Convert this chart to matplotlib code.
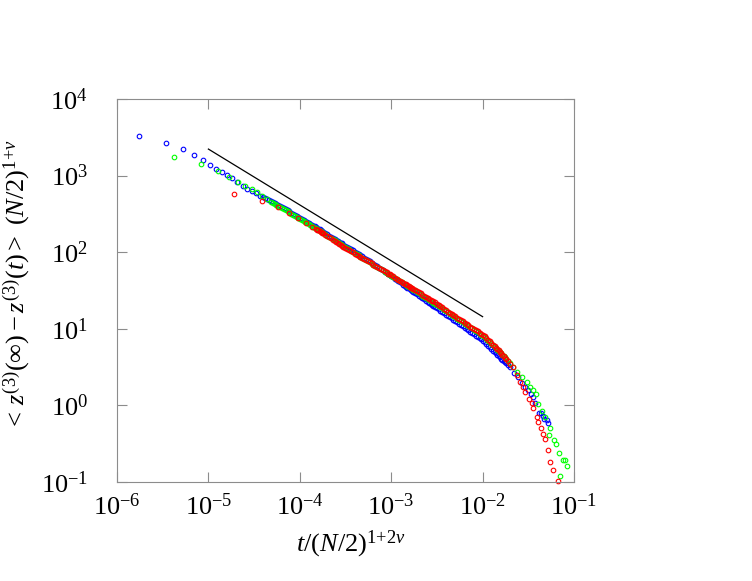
import numpy as np
import matplotlib
matplotlib.use('Agg')
import matplotlib.pyplot as plt
from matplotlib.ticker import FixedLocator, NullLocator, FuncFormatter

# ---------------- data ----------------
t_blue = [1.73e-6, 3.44e-6, 5.24e-6, 6.95e-6, 8.67e-6, 1.04e-5, 1.21e-5, 1.40e-5,
          1.58e-5, 1.80e-5, 2.07e-5, 2.37e-5, 2.66e-5, 2.98e-5, 3.32e-5, 3.67e-5,
          4.0e-5, 4.4e-5, 4.8e-5, 5.3e-5, 5.8e-5, 6.4e-5, 7.0e-5, 7.7e-5, 8.5e-5, 9.3e-5,
          1.0e-4, 1.1e-4, 1.2e-4, 1.3e-4, 1.4e-4, 1.5e-4, 1.6e-4, 1.7e-4, 1.8e-4, 2.0e-4,
          2.2e-4, 2.4e-4, 2.6e-4, 2.8e-4, 3.0e-4, 3.3e-4, 3.6e-4, 4.0e-4, 4.4e-4, 4.8e-4,
          5.3e-4, 5.8e-4, 6.4e-4, 7.0e-4, 7.7e-4, 8.5e-4, 9.3e-4,
          1.0e-3, 1.1e-3, 1.2e-3, 1.3e-3, 1.4e-3, 1.5e-3, 1.6e-3, 1.7e-3, 1.8e-3, 2.0e-3,
          2.2e-3, 2.4e-3, 2.6e-3, 2.8e-3, 3.0e-3, 3.3e-3, 3.6e-3, 4.0e-3, 4.4e-3, 4.8e-3,
          5.3e-3, 5.8e-3, 6.4e-3, 7.0e-3, 7.7e-3, 8.5e-3, 9.3e-3,
          1.0e-2, 1.1e-2, 1.2e-2, 1.3e-2, 1.4e-2, 1.5e-2, 1.6e-2, 1.7e-2, 1.8e-2, 2.0e-2,
          0.0219, 0.0244, 0.0270, 0.0294, 0.0316, 0.0339, 0.0359, 0.0378, 0.0411, 0.0436,
          0.0461, 0.0475, 0.0502, 0.0524]
y_blue = [3290, 2690, 2220, 1860, 1600, 1387, 1230, 1104, 1009, 922, 818, 731, 675, 630, 587, 542,
          522, 490, 463, 434, 410, 385, 362, 340, 317, 297,
          282, 264, 248, 234, 222, 211, 202, 194, 186, 171,
          160, 150, 141, 133, 126, 118, 110, 102, 94.6, 88.5,
          81.8, 76.2, 70.3, 65.3, 60.4, 55.7, 51.6,
          48.6, 45.0, 41.8, 39.1, 36.6, 34.6, 32.8, 31.2, 29.7, 27.2,
          25.1, 23.3, 21.8, 20.5, 19.4, 17.9, 16.7, 15.3, 14.2, 13.2,
          12.1, 11.2, 10.3, 9.57, 8.83, 8.13, 7.52,
          7.03, 6.34, 5.74, 5.20, 4.76, 4.40, 4.07, 3.79, 3.56, 3.14,
          2.62, 2.35, 1.94, 1.74, 1.59, 1.41, 1.29, 1.06, 0.789, 0.807,
          0.728, 0.655, 0.644, 0.589]
# extra blue samples read between the ones above
t_blue_b = [4.2e-5, 4.6e-5, 5.05e-5, 5.55e-5, 6.1e-5, 6.7e-5, 7.35e-5, 8.1e-5, 8.9e-5, 9.65e-5,
            1.05e-4, 1.15e-4, 1.25e-4, 1.35e-4, 1.45e-4, 1.55e-4, 1.65e-4, 1.75e-4, 1.9e-4,
            2.1e-4, 2.3e-4, 2.5e-4, 2.7e-4, 2.9e-4, 3.15e-4, 3.45e-4, 3.8e-4, 4.2e-4, 4.6e-4,
            5.05e-4, 5.55e-4, 6.1e-4, 6.7e-4, 7.35e-4, 8.1e-4, 8.9e-4, 9.65e-4,
            1.05e-3, 1.15e-3, 1.25e-3, 1.35e-3, 1.45e-3, 1.55e-3, 1.65e-3, 1.75e-3, 1.9e-3,
            2.1e-3, 2.3e-3, 2.5e-3, 2.7e-3, 2.9e-3, 3.15e-3, 3.45e-3, 3.8e-3, 4.2e-3, 4.6e-3,
            5.05e-3, 5.55e-3, 6.1e-3, 6.7e-3, 7.35e-3, 8.1e-3, 8.9e-3, 9.65e-3,
            1.05e-2, 1.15e-2, 1.25e-2, 1.35e-2, 1.45e-2, 1.55e-2, 1.65e-2, 1.75e-2, 1.9e-2]
y_blue_b = [506, 476, 448, 422, 397, 373, 351, 328, 307, 290,
            273, 256, 241, 228, 217, 207, 198, 190, 178,
            165, 155, 145, 137, 130, 122, 114, 106, 98.2, 91.5,
            85.1, 79.0, 73.2, 67.8, 62.8, 58.0, 53.6, 50.1,
            46.8, 43.4, 40.4, 37.8, 35.6, 33.7, 32.0, 30.4, 28.4,
            26.1, 24.2, 22.6, 21.2, 19.9, 18.6, 17.3, 16.0, 14.7, 13.7,
            12.6, 11.6, 10.8, 9.94, 9.19, 8.47, 7.82, 7.27,
            6.68, 6.03, 5.46, 4.98, 4.58, 4.23, 3.93, 3.67, 3.34]

t_green = [4.17e-6, 8.36e-6, 1.26e-5, 1.70e-5, 2.12e-5, 2.53e-5, 2.98e-5, 3.38e-5, 3.83e-5, 4.34e-5,
           4.8e-5, 5.3e-5, 5.8e-5, 6.4e-5, 7.0e-5, 7.7e-5, 8.5e-5, 9.3e-5,
           1.0e-4, 1.1e-4, 1.2e-4, 1.3e-4, 1.4e-4, 1.5e-4, 1.6e-4, 1.7e-4, 1.8e-4, 2.0e-4,
           2.2e-4, 2.4e-4, 2.6e-4, 2.8e-4, 3.0e-4, 3.3e-4, 3.6e-4, 4.0e-4, 4.4e-4, 4.8e-4,
           5.3e-4, 5.8e-4, 6.4e-4, 7.0e-4, 7.7e-4, 8.5e-4, 9.3e-4,
           1.0e-3, 1.1e-3, 1.2e-3, 1.3e-3, 1.4e-3, 1.5e-3, 1.6e-3, 1.7e-3, 1.8e-3, 2.0e-3,
           2.2e-3, 2.4e-3, 2.6e-3, 2.8e-3, 3.0e-3, 3.3e-3, 3.6e-3, 4.0e-3, 4.4e-3, 4.8e-3,
           5.3e-3, 5.8e-3, 6.4e-3, 7.0e-3, 7.7e-3, 8.5e-3, 9.3e-3,
           1.0e-2, 1.1e-2, 1.2e-2, 1.3e-2, 1.4e-2, 1.5e-2, 1.6e-2, 1.7e-2, 1.8e-2, 2.0e-2,
           0.0217, 0.0236, 0.0268, 0.0303, 0.0330, 0.0359, 0.0384, 0.0406, 0.0444, 0.0482,
           0.0551, 0.0537, 0.0600, 0.0640, 0.0681, 0.0752, 0.0798, 0.0828, 0.0711]
y_green = [1733, 1429, 1159, 968, 832, 731, 663, 606, 542, 491,
           459, 429, 404, 378, 354, 331, 309, 290,
           275, 256, 240, 227, 215, 204, 195, 187, 179, 165,
           154, 144, 135, 128, 121, 113, 105, 97.3, 90.6, 84.9,
           78.9, 73.8, 68.7, 64.1, 59.8, 55.6, 52.0,
           49.2, 45.9, 43.0, 40.6, 38.3, 36.4, 34.7, 33.2, 31.8, 29.3,
           27.2, 25.5, 23.9, 22.5, 21.3, 19.8, 18.5, 17.1, 15.8, 14.7,
           13.6, 12.6, 11.7, 10.9, 10.1, 9.31, 8.65,
           8.07, 7.36, 6.67, 6.08, 5.56, 5.16, 4.76, 4.41, 4.08, 3.56,
           3.15, 2.75, 2.33, 2.02, 1.74, 1.59, 1.41, 1.04, 0.857, 0.711,
           0.502, 0.405, 0.353, 0.318, 0.237, 0.194, 0.194, 0.160, 0.119]
t_green_b = [5.05e-5, 5.55e-5, 6.1e-5, 6.7e-5, 7.35e-5, 8.1e-5, 8.9e-5, 9.65e-5,
             1.05e-4, 1.15e-4, 1.25e-4, 1.35e-4, 1.45e-4, 1.55e-4, 1.65e-4, 1.75e-4, 1.9e-4,
             2.1e-4, 2.3e-4, 2.5e-4, 2.7e-4, 2.9e-4, 3.15e-4, 3.45e-4, 3.8e-4, 4.2e-4, 4.6e-4,
             5.05e-4, 5.55e-4, 6.1e-4, 6.7e-4, 7.35e-4, 8.1e-4, 8.9e-4, 9.65e-4,
             1.05e-3, 1.15e-3, 1.25e-3, 1.35e-3, 1.45e-3, 1.55e-3, 1.65e-3, 1.75e-3, 1.9e-3,
             2.1e-3, 2.3e-3, 2.5e-3, 2.7e-3, 2.9e-3, 3.15e-3, 3.45e-3, 3.8e-3, 4.2e-3, 4.6e-3,
             5.05e-3, 5.55e-3, 6.1e-3, 6.7e-3, 7.35e-3, 8.1e-3, 8.9e-3, 9.65e-3,
             1.05e-2, 1.15e-2, 1.25e-2, 1.35e-2, 1.45e-2, 1.55e-2, 1.65e-2, 1.75e-2, 1.9e-2]
y_green_b = [444, 416, 390, 366, 342, 320, 299, 282,
             265, 248, 234, 221, 209, 200, 191, 183, 172,
             159, 149, 139, 131, 124, 117, 109, 101, 93.9, 87.7,
             81.8, 76.3, 71.2, 66.4, 61.9, 57.7, 53.8, 50.6,
             47.5, 44.4, 41.7, 39.4, 37.3, 35.5, 33.9, 32.5, 30.5,
             28.2, 26.3, 24.7, 23.2, 21.9, 20.6, 19.1, 17.8, 16.4, 15.2,
             14.1, 13.1, 12.2, 11.3, 10.5, 9.68, 8.97, 8.36,
             7.71, 7.01, 6.37, 5.81, 5.36, 4.96, 4.58, 4.24, 3.82]

t_red = [1.91e-5, 3.83e-5, 5.77e-5, 7.67e-5, 9.55e-5, 1.16e-4, 1.36e-4,
         1.5e-4, 1.6e-4, 1.7e-4, 1.8e-4, 2.0e-4, 2.2e-4, 2.4e-4, 2.6e-4, 2.8e-4, 3.0e-4,
         3.3e-4, 3.6e-4, 4.0e-4, 4.4e-4, 4.8e-4, 5.3e-4, 5.8e-4, 6.4e-4, 7.0e-4, 7.7e-4,
         8.5e-4, 9.3e-4,
         1.0e-3, 1.1e-3, 1.2e-3, 1.3e-3, 1.4e-3, 1.5e-3, 1.6e-3, 1.7e-3, 1.8e-3, 2.0e-3,
         2.2e-3, 2.4e-3, 2.6e-3, 2.8e-3, 3.0e-3, 3.3e-3, 3.6e-3, 4.0e-3, 4.4e-3, 4.8e-3,
         5.3e-3, 5.8e-3, 6.4e-3, 7.0e-3, 7.7e-3, 8.5e-3, 9.3e-3,
         1.0e-2, 1.1e-2, 1.2e-2, 1.3e-2, 1.4e-2, 1.5e-2, 1.6e-2, 1.7e-2, 1.8e-2, 2.0e-2,
         0.0217, 0.0236, 0.0256, 0.0275, 0.0291, 0.0324, 0.0344, 0.0359, 0.0391, 0.0406,
         0.0432, 0.0455, 0.0482, 0.0524, 0.0546, 0.0593, 0.0673]
y_red = [575, 470, 385, 322, 277, 243, 215,
         201, 192, 184, 176, 162, 151, 141, 132, 125, 118,
         110, 104, 95.9, 89.5, 84.3, 78.5, 73.8, 68.9, 64.6, 60.3,
         56.2, 52.6,
         49.9, 46.6, 43.7, 41.2, 39.0, 37.1, 35.4, 33.9, 32.5, 30.1,
         28.0, 26.3, 24.8, 23.4, 22.1, 20.5, 19.1, 17.5, 16.1, 15.1,
         13.9, 13.0, 12.0, 11.2, 10.3, 9.57, 8.91,
         8.36, 7.57, 6.84, 6.19, 5.62, 5.22, 4.82, 4.41, 4.04, 3.52,
         3.20, 2.49, 2.04, 1.75, 1.51, 1.20, 1.06, 0.916, 0.700, 0.612,
         0.502, 0.424, 0.364, 0.262, 0.184, 0.1435, 0.103]
t_red_b = [1.55e-4, 1.65e-4, 1.75e-4, 1.9e-4,
           2.1e-4, 2.3e-4, 2.5e-4, 2.7e-4, 2.9e-4, 3.15e-4, 3.45e-4, 3.8e-4, 4.2e-4, 4.6e-4,
           5.05e-4, 5.55e-4, 6.1e-4, 6.7e-4, 7.35e-4, 8.1e-4, 8.9e-4, 9.65e-4,
           1.05e-3, 1.15e-3, 1.25e-3, 1.35e-3, 1.45e-3, 1.55e-3, 1.65e-3, 1.75e-3, 1.9e-3,
           2.1e-3, 2.3e-3, 2.5e-3, 2.7e-3, 2.9e-3, 3.15e-3, 3.45e-3, 3.8e-3, 4.2e-3, 4.6e-3,
           5.05e-3, 5.55e-3, 6.1e-3, 6.7e-3, 7.35e-3, 8.1e-3, 8.9e-3, 9.65e-3,
           1.05e-2, 1.15e-2, 1.25e-2, 1.35e-2, 1.45e-2, 1.55e-2, 1.65e-2, 1.75e-2, 1.9e-2]
y_red_b = [196, 188, 180, 169,
           156, 146, 137, 128, 122, 114, 107, 99.7, 92.7, 86.9,
           81.4, 76.1, 71.3, 66.7, 62.4, 58.2, 54.4, 51.2,
           48.2, 45.1, 42.4, 40.1, 38.0, 36.2, 34.6, 33.2, 31.3,
           29.0, 27.1, 25.5, 24.1, 22.8, 21.3, 19.8, 18.3, 16.8, 15.6,
           14.5, 13.5, 12.5, 11.6, 10.7, 9.94, 9.24, 8.63,
           7.95, 7.19, 6.51, 5.90, 5.42, 5.02, 4.61, 4.22, 3.77]

line_t = [1e-5, 1e-2]
line_y = [2220, 14.4]

x_ticks = [1e-6, 1e-5, 1e-4, 1e-3, 1e-2, 1e-1]
y_ticks = [1e-1, 1e0, 1e1, 1e2, 1e3, 1e4]

# ---------------- style ----------------
plt.rcParams['font.family'] = ['Liberation Serif', 'DejaVu Serif']
plt.rcParams['mathtext.fontset'] = 'custom'
plt.rcParams['mathtext.rm'] = 'Liberation Serif'
plt.rcParams['mathtext.it'] = 'Liberation Serif:italic'
plt.rcParams['mathtext.bf'] = 'Liberation Serif:bold'

W, H = 752, 581
fig = plt.figure(figsize=(W / 100, H / 100), dpi=100)
L, R, T, B = 117, 574, 99, 482
ax = fig.add_axes([L / W, (H - B) / H, (R - L) / W, (B - T) / H])
ax.set_xscale('log')
ax.set_yscale('log')
ax.set_xlim(1e-6, 1e-1)
ax.set_ylim(1e-1, 1e4)

mk = dict(ls='none', marker='o', mfc='none', ms=3.3, mew=0.8, clip_on=False)
ax.plot(t_blue + t_blue_b, y_blue + y_blue_b, mec='#0000ff', **mk)
ax.plot(t_green + t_green_b, y_green + y_green_b, mec='#00ff00', **mk)
ax.plot(t_red + t_red_b, y_red + y_red_b, mec='#ff0000', **mk)
ax.plot(line_t, line_y, color='black', lw=0.9)

fmt = FuncFormatter(lambda v, p: r'$10^{%d}$' % int(round(np.log10(v))))
ax.xaxis.set_major_locator(FixedLocator(x_ticks))
ax.yaxis.set_major_locator(FixedLocator(y_ticks))
ax.xaxis.set_minor_locator(NullLocator())
ax.yaxis.set_minor_locator(NullLocator())
ax.xaxis.set_major_formatter(fmt)
ax.yaxis.set_major_formatter(fmt)

gray = '#8c8c8c'
for s in ax.spines.values():
    s.set_color(gray)
    s.set_linewidth(0.8)
ax.tick_params(which='both', direction='in', top=True, right=True,
               length=7, width=0.8, color=gray, labelsize=19, labelcolor='black')
ax.tick_params(axis='x', pad=8)
ax.tick_params(axis='y', pad=21)

ax.set_xlabel(r'$t/(N/2)^{1{+}2\nu}$', fontsize=19)
ax.xaxis.set_label_coords((351 - L) / (R - L), -(529 - B) / (B - T))
ax.xaxis.label.set_va('top')

ax.set_ylabel(r'$<\,z^{(3)}(\infty)-z^{(3)}(t)>\ (N/2)^{1{+}\nu}$', fontsize=19)
ax.yaxis.set_label_coords(-(L - 33) / (R - L), (B - 285) / (B - T))

fig.savefig('out.png', dpi=100)
